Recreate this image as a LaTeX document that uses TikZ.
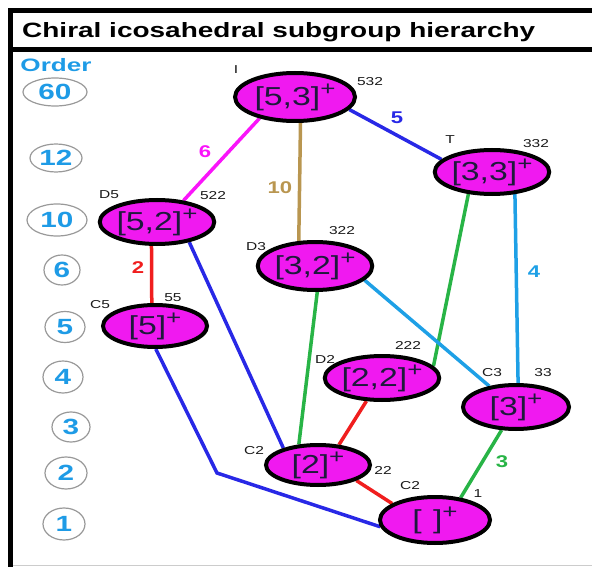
\documentclass[tikz,border=0pt]{standalone}
\usepackage{fontspec}
\setmainfont{Liberation Sans}
\usetikzlibrary{shapes.geometric,backgrounds}

\definecolor{grpfill}{RGB}{240,25,240}
\definecolor{grptext}{RGB}{30,25,60}
\definecolor{ordblue}{RGB}{30,155,230}
\definecolor{lnblue}{RGB}{40,40,230}
\definecolor{lnsky}{RGB}{30,160,230}
\definecolor{lngreen}{RGB}{40,180,70}
\definecolor{lnred}{RGB}{240,30,30}
\definecolor{lntan}{RGB}{185,150,80}
\definecolor{lnmag}{RGB}{250,20,250}

% horizontally stretched text
\newcommand{\xstretch}[2]{\scalebox{#1}[1]{#2}}
% group symbol with a raised plus sign
\newcommand{\grplabel}[1]{\xstretch{1.3}{#1}\raisebox{0.38em}{\xstretch{1.3}{\fontsize{20}{20}\selectfont +}}}

\begin{document}
\begin{tikzpicture}[x=1pt,y=-1pt,
  grp/.style={ellipse, draw=black, line width=4pt, fill=grpfill, inner sep=0pt,
    text=grptext, font=\fontsize{26}{26}\selectfont},
  ord/.style={ellipse, draw=gray!80, line width=1.2pt, inner sep=0pt,
    text=ordblue, font=\bfseries\fontsize{22}{22}\selectfont},
  tag/.style={font=\fontsize{11.5}{11.5}\selectfont, text=black!90, inner sep=0pt},
  idx/.style={font=\bfseries\fontsize{17}{17}\selectfont, inner sep=0pt},
  link/.style={line width=3.5pt}]
\useasboundingbox (0,0) rectangle (592,567);

% frame and title bar
\fill[black] (8,8) rectangle (592,13);
\fill[black] (8,47) rectangle (592,52);
\fill[black] (8,8) rectangle (13,567);
\draw[gray!40, line width=1pt] (13,565.5) -- (592,565.5);
\node[anchor=base west, inner sep=0pt] (title) at (22,37.5)
  {\resizebox{513pt}{15pt}{\bfseries Chiral icosahedral subgroup hierarchy}};

% order scale
\node[inner sep=0pt, text=ordblue, font=\bfseries\fontsize{18}{18}\selectfont] (ordhead) at (56,65) {\xstretch{1.45}{Order}};
\node[ord, minimum width=64pt, minimum height=28pt] (o60) at (55,92) {\xstretch{1.35}{60}};
\node[ord, minimum width=52pt, minimum height=28pt] (o12) at (56,158) {\xstretch{1.35}{12}};
\node[ord, minimum width=60pt, minimum height=32pt] (o10) at (57,220) {\xstretch{1.35}{10}};
\node[ord, minimum width=36pt, minimum height=30pt] (o6) at (62,270) {\xstretch{1.35}{6}};
\node[ord, minimum width=40pt, minimum height=31pt] (o5) at (65,327) {\xstretch{1.35}{5}};
\node[ord, minimum width=40pt, minimum height=32pt] (o4) at (63,377) {\xstretch{1.35}{4}};
\node[ord, minimum width=38pt, minimum height=30pt] (o3) at (71,427) {\xstretch{1.35}{3}};
\node[ord, minimum width=42pt, minimum height=32pt] (o2) at (66,473) {\xstretch{1.35}{2}};
\node[ord, minimum width=42pt, minimum height=32pt] (o1) at (64,524) {\xstretch{1.35}{1}};

% subgroups
\node[grp, minimum width=120pt, minimum height=48pt] (n53) at (295,97) {\grplabel{[5,3]}};
\node[grp, minimum width=112pt, minimum height=44pt] (n33) at (492,172) {\grplabel{[3,3]}};
\node[grp, minimum width=106pt, minimum height=44pt] (n52) at (157,222) {\grplabel{[5,2]}};
\node[grp, minimum width=96pt, minimum height=48pt] (n32) at (315,266) {\grplabel{[3,2]}};
\node[grp, minimum width=104pt, minimum height=42pt] (n5) at (155,326) {\grplabel{[5]}};
\node[grp, minimum width=110pt, minimum height=44pt] (n22) at (382,378) {\grplabel{[2,2]}};
\node[grp, minimum width=106pt, minimum height=44pt] (n3) at (516,407) {\grplabel{[3]}};
\node[grp, minimum width=104pt, minimum height=40pt] (n2) at (318,465) {\grplabel{[2]}};
\node[grp, minimum width=110pt, minimum height=46pt] (n1) at (435,520) {\grplabel{[\,\,]}};

% subgroup links
\coordinate (bend) at (217,473);
\begin{scope}[on background layer]
\draw[link, lnmag]   (n53.211) -- (n52.39);
\draw[link, lntan]   (n53.-78) -- (n32.123);
\draw[link, lnblue]  (n53.-13) -- (n33.166);
\draw[link, lngreen] (n33.223) -- (n22.13);
\draw[link, lnsky]   (n33.-44) -- (n3.85);
\draw[link, lnred]   (n52.-103) -- (n5.98);
\draw[link, lnblue]  (n52.-32) -- (n2.154);
\draw[link, lngreen] (n32.-85) -- (n2.133);
\draw[link, lnsky]   (n32.-16) -- (n3.142);
\draw[link, lnblue]  (n5.-88) -- (bend) -- (n1.187);
\draw[link, lnred]   (n22.-124) -- (n2.44);
\draw[link, lnred]   (n2.-22) -- (n1.159);
\draw[link, lngreen] (n3.-122) -- (n1.41);
\end{scope}

% indices
\node[idx, text=lnmag] (i6) at (205,152) {\xstretch{1.3}{6}};
\node[idx, text=lntan] (i10) at (280,188) {\xstretch{1.3}{10}};
\node[idx, text=lnblue] (i5) at (397,118) {\xstretch{1.3}{5}};
\node[idx, text=lnsky] (i4) at (534,272) {\xstretch{1.3}{4}};
\node[idx, text=lnred] (i2) at (138,268) {\xstretch{1.3}{2}};
\node[idx, text=lngreen] (i3) at (502,462) {\xstretch{1.3}{3}};

% names and orbifold symbols
\node[tag] (tI) at (236,70) {\xstretch{1.35}{I}};
\node[tag] (t532) at (370,82) {\xstretch{1.35}{532}};
\node[tag] (tT) at (450,140) {\xstretch{1.35}{T}};
\node[tag] (t332) at (536,144) {\xstretch{1.35}{332}};
\node[tag] (tD5) at (109,195) {\xstretch{1.35}{D5}};
\node[tag] (t522) at (213,196) {\xstretch{1.35}{522}};
\node[tag] (tD3) at (256,247) {\xstretch{1.35}{D3}};
\node[tag] (t322) at (342,231) {\xstretch{1.35}{322}};
\node[tag] (tC5) at (100,305) {\xstretch{1.35}{C5}};
\node[tag] (t55) at (173,298) {\xstretch{1.35}{55}};
\node[tag] (tD2) at (325,359) {\xstretch{1.35}{D2}};
\node[tag] (t222) at (408,345) {\xstretch{1.35}{222}};
\node[tag] (tC3) at (492,373) {\xstretch{1.35}{C3}};
\node[tag] (t33) at (543,373) {\xstretch{1.35}{33}};
\node[tag] (tC2a) at (254,451) {\xstretch{1.35}{C2}};
\node[tag] (t22) at (383,470) {\xstretch{1.35}{22}};
\node[tag] (tC2b) at (410,486) {\xstretch{1.35}{C2}};
\node[tag] (t1) at (478,494) {\xstretch{1.35}{1}};
\end{tikzpicture}
\end{document}
